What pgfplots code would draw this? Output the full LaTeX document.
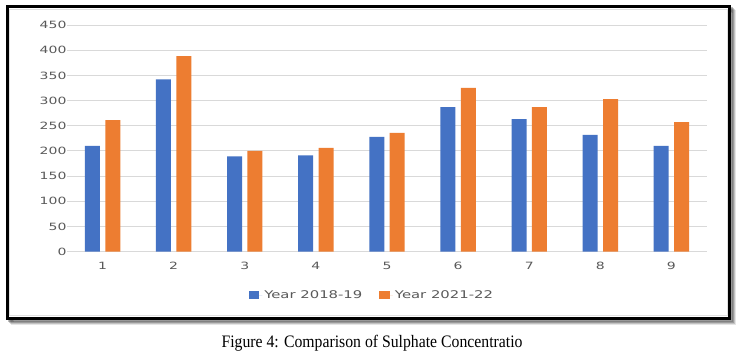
\documentclass[border=0pt]{standalone}
\usepackage{pgfplots}
\pgfplotsset{compat=1.18}
\usepackage{fontspec}
\setmainfont{Liberation Serif}
\newfontfamily\capfont[FakeStretch=0.9]{Liberation Serif}
\newfontfamily\tickfont[FakeStretch=1.4]{DejaVu Sans}
\definecolor{cblue}{HTML}{4472C4}
\definecolor{corange}{HTML}{ED7D31}
\definecolor{tickgray}{HTML}{595959}
\definecolor{gridgray}{HTML}{D9D9D9}
\begin{document}
\begin{tikzpicture}[x=1pt,y=1pt]
\useasboundingbox (0,0) rectangle (741,357);
\fill[white] (0,0) rectangle (741,357);
% shadow
\foreach \o/\op in {5/0.10,4/0.15,3/0.2,2/0.25}{
  \draw[black,opacity=\op,line width=3pt] (7.2+\o,350-\o) rectangle (729.7+\o,38.5-\o);
}
\fill[white] (7.2,350) rectangle (729.7,38.5);
\draw[gridgray!80,line width=1pt] (9.8,347.4) rectangle (727.1,41.1);
\draw[black,line width=3pt] (7.2,350) rectangle (729.7,38.5);
\begin{axis}[
  at={(67pt,105.3pt)}, anchor=south west,
  scale only axis, width=640pt, height=226.7pt,
  xmin=0.5, xmax=9.5, ymin=0, ymax=450,
  xtick={1,...,9}, ytick={0,50,...,450},
  ymajorgrids, grid style={gridgray, line width=0.9pt},
  axis line style={draw=none},
  major tick length=0pt,
  ybar=5.4pt, bar width=15pt,
  tick label style={font=\tickfont\fontsize{10}{12}\selectfont, text=tickgray},
  /pgf/number format/assume math mode=true,
  yticklabel style={anchor=east, xshift=3pt},
  xticklabel style={yshift=-7pt},
  legend style={at={(0.4764,-0.191)}, anchor=center, draw=none, fill=none,
    legend columns=2, font=\tickfont\fontsize{10.6}{12}\selectfont, text=tickgray,
    /tikz/every even column/.append style={column sep=15pt}},
  legend image code/.code={\fill[#1] (0pt,-3.6pt) rectangle (10.5pt,3.6pt); \path (0pt,0pt) -- (13.5pt,0pt);},
]
\addplot[fill=cblue, draw=none] coordinates {(1,210) (2,342) (3,189) (4,191) (5,228) (6,287) (7,263) (8,232) (9,210)};
\addplot[fill=corange, draw=none] coordinates {(1,261) (2,388) (3,200) (4,206) (5,236) (6,325) (7,287) (8,303) (9,257)};
\legend{Year 2018-19, Year 2021-22}
\end{axis}
\node[font=\capfont\fontsize{17.5}{20}\selectfont] at (372,14) {Figure 4: Comparison of Sulphate Concentratio};
\end{tikzpicture}
\end{document}
